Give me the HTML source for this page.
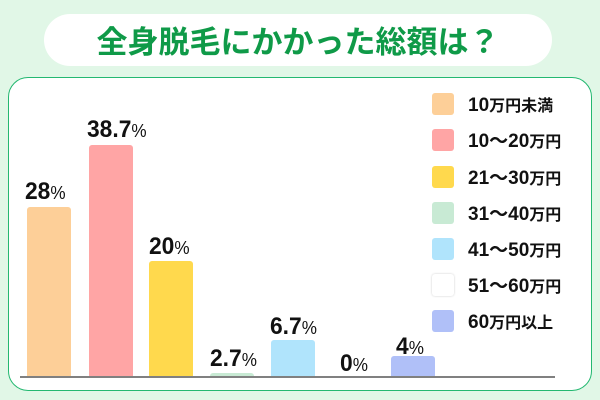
<!DOCTYPE html><html><head><meta charset="utf-8"><style>
body{margin:0;width:600px;height:400px;background:#e1f7e7;position:relative;overflow:hidden;font-family:"Liberation Sans","Noto Sans CJK JP",sans-serif}
.pill{position:absolute;left:44px;top:14px;width:508px;height:52px;background:#fff;border-radius:26px;text-align:center;line-height:52px;color:#0f9a48;font-size:31px;font-weight:bold;font-family:"Noto Sans CJK JP",sans-serif}
.panel{position:absolute;left:8px;top:77px;width:582px;height:312px;background:#fff;border:1.5px solid #24b871;border-radius:20px}
.bar{position:absolute;width:44px;bottom:23px;border-radius:3px 3px 0 0}
.axis{position:absolute;left:20px;top:376px;width:535px;height:2px;background:#808080}
.lbl{position:absolute;font-size:24px;font-weight:bold;color:#111;line-height:1;transform:scaleX(0.95);transform-origin:left}
.lbl span{font-size:18px;font-weight:normal}
.sw{position:absolute;left:432px;width:22px;height:22px;border-radius:3px}
.lt{position:absolute;left:468px;font-size:19px;font-weight:bold;color:#111;line-height:22px}
.lt span{font-size:16px;font-family:"Noto Sans CJK JP",sans-serif}
</style></head><body>
<div class="pill">全身脱毛にかかった総額は？</div>
<div class="panel"></div>
<div class="bar" style="left:27px;top:207px;background:#fdcf98"></div>
<div class="bar" style="left:89px;top:145px;background:#ffa5a5"></div>
<div class="bar" style="left:149px;top:261px;background:#ffd94d"></div>
<div class="bar" style="left:210px;top:373px;background:#c8ead4"></div>
<div class="bar" style="left:271px;top:340px;background:#b0e4fc"></div>
<div class="bar" style="left:391px;top:356px;background:#b0c0f8"></div>
<div class="axis"></div>
<div class="lbl" style="left:25px;top:180px">28<span>%</span></div>
<div class="lbl" style="left:87px;top:118px">38.7<span>%</span></div>
<div class="lbl" style="left:149px;top:235px">20<span>%</span></div>
<div class="lbl" style="left:210px;top:347px">2.7<span>%</span></div>
<div class="lbl" style="left:270px;top:315px">6.7<span>%</span></div>
<div class="lbl" style="left:340px;top:352px">0<span>%</span></div>
<div class="lbl" style="left:396px;top:335px">4<span>%</span></div>
<div class="sw" style="top:93px;background:#fdcf98"></div><div class="lt" style="top:93px">10<span>万円未満</span></div>
<div class="sw" style="top:129px;background:#ffa5a5"></div><div class="lt" style="top:129px">10～20<span>万円</span></div>
<div class="sw" style="top:166px;background:#ffd94d"></div><div class="lt" style="top:166px">21～30<span>万円</span></div>
<div class="sw" style="top:202px;background:#c8ead4"></div><div class="lt" style="top:202px">31～40<span>万円</span></div>
<div class="sw" style="top:238px;background:#b0e4fc"></div><div class="lt" style="top:238px">41～50<span>万円</span></div>
<div class="sw" style="top:274px;background:#fff;box-shadow:0 0 2px #ccc"></div><div class="lt" style="top:274px">51～60<span>万円</span></div>
<div class="sw" style="top:310px;background:#b0c0f8"></div><div class="lt" style="top:310px">60<span>万円以上</span></div>
</body></html>
